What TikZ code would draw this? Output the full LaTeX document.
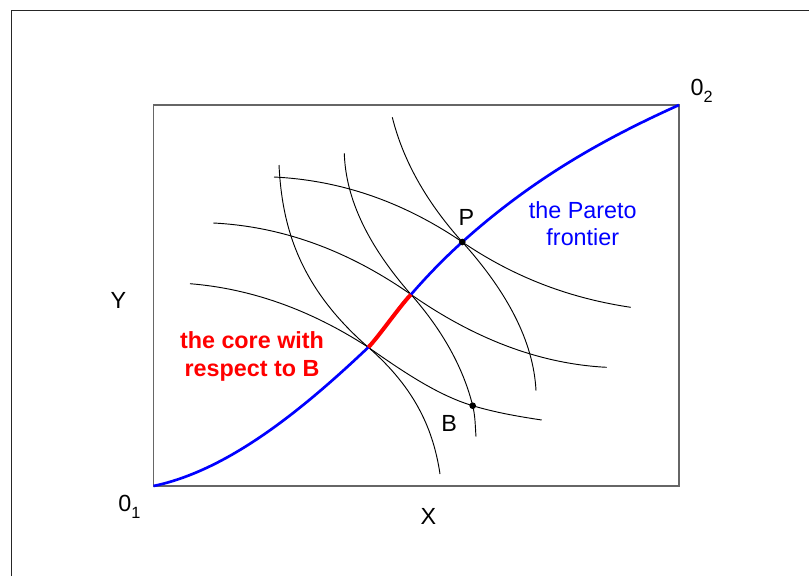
\documentclass[tikz,border=0pt]{standalone}
\usepackage{fontspec}
\setmainfont{Liberation Sans}

\newcommand{\cornerlbl}[1]{0\raisebox{-5pt}{\fontsize{12.2}{12}\selectfont #1}}

\begin{document}
\begin{tikzpicture}[x=0.75pt,y=-0.75pt,
  indiff/.style={black,line width=0.7pt},
  lbl/.style={font=\fontsize{17.5}{20}\selectfont,anchor=base,inner sep=0pt},
  dot/.style={circle,fill=black,inner sep=0pt,minimum size=5pt}]
\useasboundingbox (0,0) rectangle (809,576);
\draw [black!85,line width=0.8pt] (11.5,576) -- (11.5,10.5) -- (809,10.5);
\draw [black!60,line width=1pt] (153.5,105) rectangle (679,486);
\coordinate (O1) at (153.5,486);
\coordinate (O2) at (679,105);
\coordinate (R1) at (368.3,347.3);
\coordinate (R2) at (411,294.5);
\coordinate (P) at (462.3,242);
\coordinate (B) at (472.7,405.7);
% curves of the first trader
\draw [indiff] (274,177) .. controls (336.8,180.1) and (399.5,199.3) .. (P)
  .. controls (518.4,280.1) and (574.6,298.9) .. (630.7,307.3);
\draw [indiff] (213.3,223) .. controls (279.2,226.3) and (345.1,248.4) .. (R2)
  .. controls (476.2,340.1) and (541.5,364) .. (606.7,367.3);
\draw [indiff] (190,283.7) .. controls (249.4,288.5) and (308.9,308.7) .. (R1)
  .. controls (403.1,371.7) and (437.9,395.3) .. (B)
  .. controls (495.7,412.6) and (518.7,416.5) .. (541.7,420);
% curves of the second trader
\draw [indiff] (279,165) .. controls (282,225.8) and (298.4,286.5) .. (R1)
  .. controls (416.8,389.5) and (433.7,431.8) .. (440,474);
\draw [indiff] (344.3,153.3) .. controls (345.7,200.4) and (369.6,247.4) .. (R2)
  .. controls (443.6,331.6) and (463.4,368.6) .. (B)
  .. controls (475.3,416) and (475.2,426.4) .. (476,436.7);
\draw [indiff] (392.3,117.3) .. controls (402.7,158.9) and (424.9,200.4) .. (P)
  .. controls (506.9,291.6) and (533.5,341.1) .. (536,390.7);
% contract curve and core
\draw [blue,line width=2pt] (O1) .. controls (225.1,471) and (296.7,415.3) .. (R1)
  .. controls (377.8,337.8) and (400.6,305) .. (R2)
  .. controls (428.1,274.8) and (445.2,257.4) .. (P)
  .. controls (534.5,177) and (606.8,137.5) .. (O2);
\draw [red,line width=3pt] (R1) .. controls (377.8,337.8) and (400.6,305) .. (R2);
\node [dot] (Pdot) at (P) {};
\node [dot] (Bdot) at (B) {};
% labels
\node [lbl] (Plbl) at (466.3,225.7) {P};
\node [lbl] (Blbl) at (449.2,431) {B};
\node [lbl] (Xlbl) at (428.3,524.3) {X};
\node [lbl] (Ylbl) at (118.5,308.3) {Y};
\node [lbl] (o1) at (129.3,511.7) {\cornerlbl{1}};
\node [lbl] (o2) at (701.7,95.7) {\cornerlbl{2}};
\node [lbl,blue,align=center] (front) at (582.8,245) {the Pareto\\frontier};
\node [lbl,red,align=center,font=\fontsize{17.5}{21}\selectfont\bfseries] (core) at (252,376.7) {the core with\\respect to B};
\end{tikzpicture}
\end{document}
